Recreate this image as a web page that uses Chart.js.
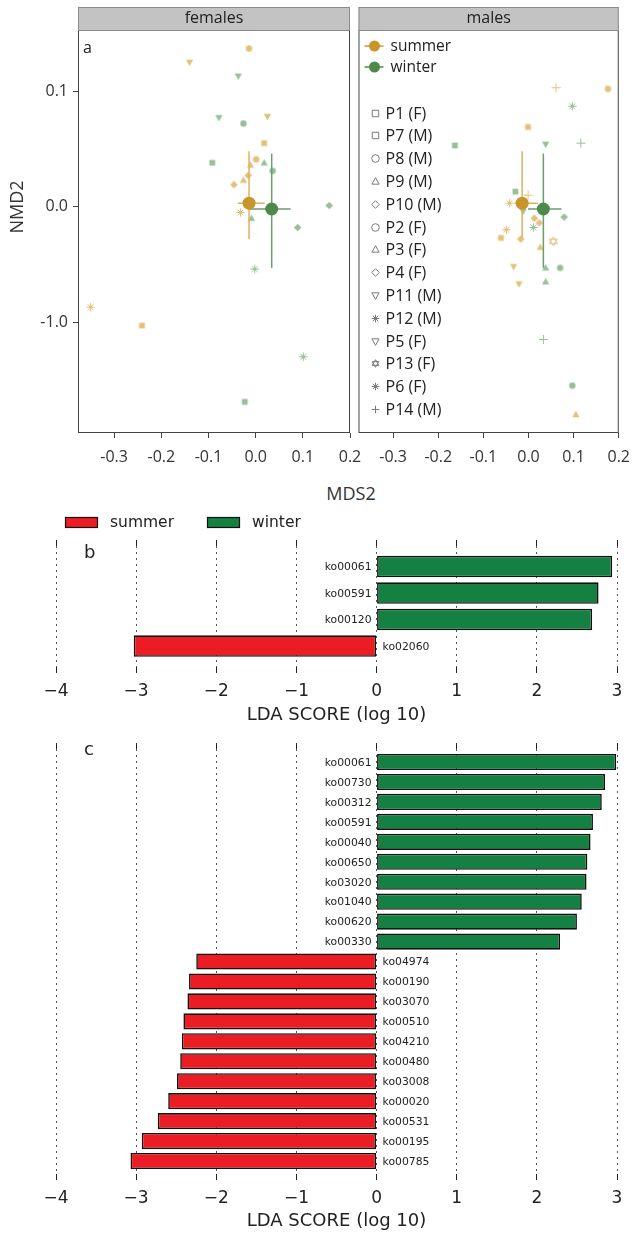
<!DOCTYPE html>
<html>
<head>
<meta charset="utf-8">
<script src="https://cdn.jsdelivr.net/npm/chart.js@4/dist/chart.umd.min.js"></script>
<style>
  html, body { margin: 0; padding: 0; background: #fff; }
  #page { position: relative; width: 640px; height: 1234px; overflow: hidden; }
  canvas { position: absolute; }
  #mds { position: absolute; left: 291px; width: 120px; top: 481px; line-height: 22px;
         text-align: center; font: 18px 'Open Sans'; color: #333; }
</style>
</head>
<body>
<div id="page">
  <canvas id="females" width="372" height="470" style="left:0;top:0"></canvas>
  <canvas id="males" width="288" height="470" style="left:352px;top:0"></canvas>
  <div id="mds">MDS2</div>
  <canvas id="ldaB" width="640" height="225" style="left:0;top:505px"></canvas>
  <canvas id="ldaC" width="640" height="504" style="left:0;top:730px"></canvas>
</div>
<script>
// ---- panel a: ordination ----
const xTicks = [-0.3, -0.2, -0.1, 0.0, 0.1, 0.2];
const xTickLabels = ['-0.3', '-0.2', '-0.1', '0.0', '0.1', '0.2'];
const yTicks = [-0.1, 0.0, 0.1];
const yTickLabels = ['-1.0', '0.0', '0.1'];

const femSummerX = [-0.014, -0.140, 0.025, 0.018, 0.001, -0.011, -0.016, -0.026, -0.046, -0.032, -0.350, -0.241];
const femSummerY = [0.137, 0.125, 0.078, 0.055, 0.041, 0.036, 0.027, 0.023, 0.019, -0.005, -0.087, -0.103];
const femSummerId = ['P2', 'P5', 'P5', 'P1', 'P2', 'P3', 'P4', 'P3', 'P4', 'P6', 'P6', 'P1'];

const femWinterX = [-0.037, -0.078, -0.026, -0.092, 0.018, 0.036, -0.009, 0.156, 0.089, -0.002, 0.101, -0.023];
const femWinterY = [0.113, 0.077, 0.072, 0.038, 0.038, 0.031, -0.010, 0.001, -0.018, -0.054, -0.130, -0.169];
const femWinterId = ['P5', 'P5', 'P2', 'P1', 'P3', 'P2', 'P3', 'P4', 'P4', 'P6', 'P6', 'P1'];

const maleSummerX = [0.061, 0.176, -0.001, -0.001, -0.042, 0.013, 0.024, -0.049, -0.061, -0.017, 0.055, 0.026, -0.033, -0.021, 0.105];
const maleSummerY = [0.103, 0.102, 0.069, 0.010, 0.003, -0.010, -0.014, -0.020, -0.027, -0.028, -0.030, -0.035, -0.052, -0.067, -0.180];
const maleSummerId = ['P14', 'P8', 'P7', 'P14', 'P12', 'P10', 'P10', 'P12', 'P7', 'P10', 'P13', 'P9', 'P11', 'P11', 'P9'];

const maleWinterX = [0.097, -0.163, 0.038, 0.116, -0.029, -0.012, 0.079, 0.011, 0.038, 0.070, 0.038, 0.033, 0.097];
const maleWinterY = [0.087, 0.053, 0.054, 0.055, 0.013, -0.004, -0.009, -0.018, -0.053, -0.053, -0.065, -0.115, -0.155];
const maleWinterId = ['P12', 'P7', 'P11', 'P14', 'P7', 'P11', 'P10', 'P12', 'P9', 'P8', 'P9', 'P14', 'P8'];

// centroid [x, y] and error ranges [low, high]
const femSummerMean = [-0.014, 0.003];
const femSummerErrX = [-0.038, 0.019];
const femSummerErrY = [-0.028, 0.048];
const femWinterMean = [0.034, -0.002];
const femWinterErrX = [-0.013, 0.074];
const femWinterErrY = [-0.053, 0.046];
const maleSummerMean = [-0.014, 0.003];
const maleSummerErrX = [-0.031, 0.021];
const maleSummerErrY = [-0.027, 0.048];
const maleWinterMean = [0.033, -0.002];
const maleWinterErrX = [-0.001, 0.073];
const maleWinterErrY = [-0.053, 0.046];

const legendIds = ['P1', 'P7', 'P8', 'P9', 'P10', 'P2', 'P3', 'P4', 'P11', 'P12', 'P5', 'P13', 'P6', 'P14'];
const legendSex = ['F', 'M', 'M', 'M', 'M', 'F', 'F', 'F', 'M', 'M', 'F', 'F', 'F', 'M'];

// ---- panels b and c: LDA scores ----
const bWinterNames = ['ko00061', 'ko00591', 'ko00120'];
const bWinterScores = [2.94, 2.77, 2.69];
const bSummerNames = ['ko02060'];
const bSummerScores = [-3.03];

const cWinterNames = ['ko00061', 'ko00730', 'ko00312', 'ko00591', 'ko00040', 'ko00650', 'ko03020', 'ko01040', 'ko00620', 'ko00330'];
const cWinterScores = [2.99, 2.85, 2.81, 2.70, 2.67, 2.63, 2.62, 2.56, 2.50, 2.29];
const cSummerNames = ['ko04974', 'ko00190', 'ko03070', 'ko00510', 'ko04210', 'ko00480', 'ko03008', 'ko00020', 'ko00531', 'ko00195', 'ko00785'];
const cSummerScores = [-2.25, -2.34, -2.36, -2.41, -2.43, -2.45, -2.49, -2.60, -2.73, -2.93, -3.07];

// ---- styles ----
const shapeOf = {
    P1: 'square', P7: 'square', P2: 'circle', P8: 'circle', P3: 'triangle', P9: 'triangle',
    P4: 'diamond', P10: 'diamond', P5: 'down', P11: 'down', P6: 'asterisk', P12: 'asterisk',
    P13: 'star6', P14: 'plus',
};
const shapeSize = { square: 3.4, circle: 3.2, triangle: 3.8, down: 3.8, diamond: 3.8, asterisk: 4.2, plus: 4.6, star6: 4.6 };

const SUMMER_PT = '#e4c178';
const WINTER_PT = '#96c096';
const SUMMER_MEAN = '#c9952b';
const WINTER_MEAN = '#4b8a4b';
const SUMMER_ERR = '#dcb25e';
const WINTER_ERR = '#6a9f6a';
const RED = '#ec1c24';
const GREEN = '#148041';

const markerCache = {};
const marker = (shape, color, hollow, r) => {
    const key = [shape, color, hollow, r].join('|');
    if (markerCache[key]) {
        return markerCache[key];
    }
    const size = Math.ceil(r * 2 + 4) | 1;
    const c = document.createElement('canvas');
    c.width = size;
    c.height = size;
    const g = c.getContext('2d');
    g.translate(size / 2, size / 2);
    g.fillStyle = color;
    g.strokeStyle = color;
    g.lineWidth = 1;
    g.beginPath();
    switch (shape) {
        case 'square':
            g.rect(-r * 0.85, -r * 0.85, r * 1.7, r * 1.7);
            break;
        case 'circle':
            g.arc(0, 0, r, 0, Math.PI * 2);
            break;
        case 'triangle':
            g.moveTo(0, -r); g.lineTo(r * 0.95, r * 0.7); g.lineTo(-r * 0.95, r * 0.7); g.closePath();
            break;
        case 'down':
            g.moveTo(0, r); g.lineTo(r * 0.95, -r * 0.7); g.lineTo(-r * 0.95, -r * 0.7); g.closePath();
            break;
        case 'diamond':
            g.moveTo(0, -r); g.lineTo(r, 0); g.lineTo(0, r); g.lineTo(-r, 0); g.closePath();
            break;
        case 'plus':
            g.moveTo(-r, 0); g.lineTo(r, 0); g.moveTo(0, -r); g.lineTo(0, r);
            break;
        case 'asterisk':
            for (let k = 0; k < 4; k++) {
                const a = k * Math.PI / 4;
                g.moveTo(-Math.cos(a) * r, -Math.sin(a) * r);
                g.lineTo(Math.cos(a) * r, Math.sin(a) * r);
            }
            break;
        case 'star6':
            g.moveTo(0, -r); g.lineTo(r * 0.87, r * 0.5); g.lineTo(-r * 0.87, r * 0.5); g.closePath();
            g.moveTo(0, r); g.lineTo(r * 0.87, -r * 0.5); g.lineTo(-r * 0.87, -r * 0.5); g.closePath();
            break;
    }
    const lineOnly = shape === 'plus' || shape === 'asterisk' || shape === 'star6';
    if (hollow || lineOnly) {
        g.stroke();
    } else {
        g.fill();
    }
    markerCache[key] = c;
    return c;
};

const pointSet = (xs, ys, ids, color) => ({
    data: xs.map((x, i) => ({ x, y: ys[i] })),
    pointStyle: ids.map((id) => marker(shapeOf[id], color, false, shapeSize[shapeOf[id]])),
    pointRadius: 4,
    pointHoverRadius: 4,
    order: 3,
});

const meanSet = (mean, color) => ({
    data: [{ x: mean[0], y: mean[1] }],
    pointRadius: 6.5,
    pointHoverRadius: 6.5,
    backgroundColor: color,
    borderColor: color,
    borderWidth: 0,
    order: 1,
});

const errSets = (mean, errX, errY, color) => [
    {
        data: [{ x: errX[0], y: mean[1] }, { x: errX[1], y: mean[1] }],
        showLine: true, borderColor: color, borderWidth: 1.5, pointRadius: 0, order: 2,
    },
    {
        data: [{ x: mean[0], y: errY[0] }, { x: mean[0], y: errY[1] }],
        showLine: true, borderColor: color, borderWidth: 1.5, pointRadius: 0, order: 2,
    },
];

const ordDecor = {
    id: 'ordDecor',
    afterDatasetsDraw(chart, args, o) {
        const { ctx, chartArea: a } = chart;
        ctx.save();
        // frame
        ctx.strokeStyle = '#444';
        ctx.lineWidth = 1;
        ctx.strokeRect(a.left + 0.5, a.top + 0.5, a.width - 1, a.height - 1);
        // facet strip
        ctx.fillStyle = '#c3c3c3';
        ctx.fillRect(a.left, 7, a.width, a.top - 7);
        ctx.strokeStyle = '#8a8a8a';
        ctx.strokeRect(a.left + 0.5, 7.5, a.width - 1, a.top - 7);
        ctx.fillStyle = '#222';
        ctx.font = '16px "Open Sans"';
        ctx.textAlign = 'center';
        ctx.textBaseline = 'middle';
        ctx.fillText(o.title, (a.left + a.right) / 2, 18);

        if (o.letter) {
            ctx.textAlign = 'left';
            ctx.textBaseline = 'alphabetic';
            ctx.fillText(o.letter, a.left + 5, 53);
        }
        if (o.yTitle) {
            ctx.save();
            ctx.translate(18, 207);
            ctx.rotate(-Math.PI / 2);
            ctx.font = '18px "Open Sans"';
            ctx.fillStyle = '#333';
            ctx.textAlign = 'center';
            ctx.textBaseline = 'middle';
            ctx.fillText(o.yTitle, 0, 0);
            ctx.restore();
        }
        if (o.legend) {
            const x0 = a.left;
            const seasons = [['summer', SUMMER_MEAN, 46], ['winter', WINTER_MEAN, 67]];
            ctx.textBaseline = 'middle';
            seasons.forEach(([name, col, y]) => {
                ctx.strokeStyle = col;
                ctx.lineWidth = 1.5;
                ctx.beginPath();
                ctx.moveTo(x0 + 6, y);
                ctx.lineTo(x0 + 25, y);
                ctx.stroke();
                ctx.fillStyle = col;
                ctx.beginPath();
                ctx.arc(x0 + 16, y, 5.5, 0, Math.PI * 2);
                ctx.fill();
                ctx.fillStyle = '#222';
                ctx.font = '15.5px "Open Sans"';
                ctx.textAlign = 'left';
                ctx.fillText(name, x0 + 32, y + 1);
            });
            legendIds.forEach((id, i) => {
                const y = 113 + i * 22.8;
                const img = marker(shapeOf[id], '#7a7a7a', true, 3.8);
                ctx.drawImage(img, Math.round(x0 + 17 - img.width / 2), Math.round(y - img.height / 2));
                ctx.fillStyle = '#222';
                ctx.font = '16px "Open Sans"';
                ctx.textAlign = 'left';
                ctx.fillText(id + ' (' + legendSex[i] + ')', x0 + 27, y + 1);
            });
        }
        ctx.restore();
    },
};

const ordChart = (canvasId, datasets, opts) => {
    new Chart(document.getElementById(canvasId), {
        type: 'scatter',
        data: { datasets },
        options: {
            responsive: false,
            animation: false,
            events: [],
            layout: { padding: opts.padding },
            font: { family: 'Open Sans' },
            scales: {
                x: {
                    type: 'linear',
                    min: -0.3766,
                    max: 0.2,
                    afterBuildTicks: (s) => { s.ticks = xTicks.map((v) => ({ value: v })); },
                    afterFit: (s) => { s.height = 37; },
                    ticks: {
                        callback: (v, i) => xTickLabels[i],
                        font: { family: 'Open Sans', size: 16 },
                        color: '#333',
                        padding: 10,
                        maxRotation: 0,
                        autoSkip: false,
                    },
                    grid: { drawOnChartArea: false, drawTicks: true, tickLength: 5, tickColor: '#444' },
                    border: { display: false },
                },
                y: {
                    type: 'linear',
                    display: opts.showY,
                    min: -0.196,
                    max: 0.153,
                    afterBuildTicks: (s) => { s.ticks = yTicks.map((v) => ({ value: v })); },
                    afterFit: (s) => { s.width = opts.showY ? 78 : 0; },
                    ticks: {
                        callback: (v, i) => yTickLabels[i],
                        font: { family: 'Open Sans', size: 16 },
                        color: '#333',
                        padding: 5,
                    },
                    grid: { drawOnChartArea: false, drawTicks: true, tickLength: 5, tickColor: '#444' },
                    border: { display: false },
                },
            },
            plugins: {
                legend: { display: false },
                tooltip: { enabled: false },
                ordDecor: opts.decor,
            },
        },
        plugins: [ordDecor],
    });
};

ordChart('females', [
    meanSet(femSummerMean, SUMMER_MEAN),
    meanSet(femWinterMean, WINTER_MEAN),
    ...errSets(femSummerMean, femSummerErrX, femSummerErrY, SUMMER_ERR),
    ...errSets(femWinterMean, femWinterErrX, femWinterErrY, WINTER_ERR),
    pointSet(femSummerX, femSummerY, femSummerId, SUMMER_PT),
    pointSet(femWinterX, femWinterY, femWinterId, WINTER_PT),
], {
    padding: { top: 30, right: 22, left: 0, bottom: 0 },
    showY: true,
    decor: { title: 'females', letter: 'a', yTitle: 'NMD2' },
});

ordChart('males', [
    meanSet(maleSummerMean, SUMMER_MEAN),
    meanSet(maleWinterMean, WINTER_MEAN),
    ...errSets(maleSummerMean, maleSummerErrX, maleSummerErrY, SUMMER_ERR),
    ...errSets(maleWinterMean, maleWinterErrX, maleWinterErrY, WINTER_ERR),
    pointSet(maleSummerX, maleSummerY, maleSummerId, SUMMER_PT),
    pointSet(maleWinterX, maleWinterY, maleWinterId, WINTER_PT),
], {
    padding: { top: 30, right: 12, left: 4, bottom: 0 },
    showY: false,
    decor: { title: 'males', legend: true },
});

// ---- LDA bar panels ----
const ldaDecor = {
    id: 'ldaDecor',
    afterDatasetsDraw(chart, args, o) {
        const { ctx } = chart;
        const zero = chart.scales.x.getPixelForValue(0);
        ctx.save();
        ctx.font = '10.8px "DejaVu Sans"';
        ctx.fillStyle = '#222';
        ctx.textBaseline = 'middle';
        chart.data.datasets.forEach((ds, di) => {
            chart.getDatasetMeta(di).data.forEach((bar, i) => {
                const pos = ds.data[i].x >= 0;
                ctx.textAlign = pos ? 'right' : 'left';
                ctx.fillText(o.names[di][i], pos ? zero - 5 : zero + 6, bar.y + 1);
            });
        });
        ctx.font = '18px "DejaVu Sans"';
        ctx.textAlign = 'left';
        ctx.textBaseline = 'alphabetic';
        ctx.fillText(o.letter, 84, o.letterY);
        if (o.legend) {
            const items = [['summer', RED, 65], ['winter', GREEN, 207]];
            items.forEach(([name, col, x]) => {
                ctx.fillStyle = col;
                ctx.fillRect(x, 12, 33, 11);
                ctx.strokeStyle = '#111';
                ctx.lineWidth = 1.2;
                ctx.strokeRect(x + 0.5, 12.5, 32, 10);
                ctx.fillStyle = '#222';
                ctx.font = '15.5px "DejaVu Sans"';
                ctx.textBaseline = 'middle';
                ctx.fillText(name, x + 45, 18);
            });
        }
        ctx.restore();
    },
};

const ldaChart = (canvasId, winterNames, winterScores, summerNames, summerScores, opts) => {
    const nw = winterScores.length;
    const rows = winterScores.concat(summerScores).map((v, i) => i);
    const barStyle = {
        borderColor: '#111',
        borderWidth: 1.6,
        borderSkipped: false,
        barPercentage: 0.81,
        categoryPercentage: 1,
        grouped: false,
    };
    new Chart(document.getElementById(canvasId), {
        type: 'bar',
        data: {
            datasets: [
                {
                    label: 'winter',
                    data: winterScores.map((x, i) => ({ x, y: i })),
                    backgroundColor: GREEN,
                    ...barStyle,
                },
                {
                    label: 'summer',
                    data: summerScores.map((x, i) => ({ x, y: nw + i })),
                    backgroundColor: RED,
                    ...barStyle,
                },
            ],
        },
        options: {
            indexAxis: 'y',
            responsive: false,
            animation: false,
            events: [],
            layout: { padding: { left: 56, right: 23, top: opts.padTop, bottom: 0 } },
            scales: {
                x: {
                    type: 'linear',
                    position: 'bottom',
                    min: -4,
                    max: 3,
                    afterFit: (s) => { s.height = opts.axisHeight; },
                    ticks: {
                        stepSize: 1,
                        callback: (v) => (v < 0 ? '\u2212' + Math.abs(v) : String(v)),
                        font: { family: 'DejaVu Sans', size: 17 },
                        color: '#222',
                        padding: 8,
                    },
                    grid: { color: '#555', lineWidth: 1, drawTicks: true, tickLength: 6, tickColor: '#222', tickBorderDash: [] },
                    border: { display: false, dash: [2, 4] },
                    title: {
                        display: true,
                        text: 'LDA SCORE (log 10)',
                        font: { family: 'DejaVu Sans', size: 18 },
                        color: '#222',
                        padding: { top: 0, bottom: opts.titlePad },
                    },
                },
                x2: {
                    type: 'linear',
                    position: 'top',
                    min: -4,
                    max: 3,
                    afterFit: (s) => { s.height = 6; },
                    ticks: { stepSize: 1, display: false },
                    grid: { drawOnChartArea: false, drawTicks: true, tickLength: 6, tickColor: '#222' },
                    border: { display: false },
                },
                y: {
                    type: 'linear',
                    display: false,
                    offset: false,
                    reverse: true,
                    min: opts.yMin,
                    max: opts.yMax,
                    afterBuildTicks: (s) => { s.ticks = rows.map((v) => ({ value: v })); },
                },
            },
            plugins: {
                legend: { display: false },
                tooltip: { enabled: false },
                ldaDecor: {
                    names: [winterNames, summerNames],
                    letter: opts.letter,
                    letterY: opts.letterY,
                    legend: opts.legend,
                },
            },
        },
        plugins: [ldaDecor],
    });
};

ldaChart('ldaB', bWinterNames, bWinterScores, bSummerNames, bSummerScores, {
    padTop: 35, axisHeight: 63, yMin: -0.774, yMax: 3.79, titlePad: 4,
    letter: 'b', letterY: 53, legend: true,
});

ldaChart('ldaC', cWinterNames, cWinterScores, cSummerNames, cSummerScores, {
    padTop: 13, axisHeight: 60, yMin: -0.652, yMax: 20.65, titlePad: 2,
    letter: 'c', letterY: 25, legend: false,
});
</script>
</body>
</html>
